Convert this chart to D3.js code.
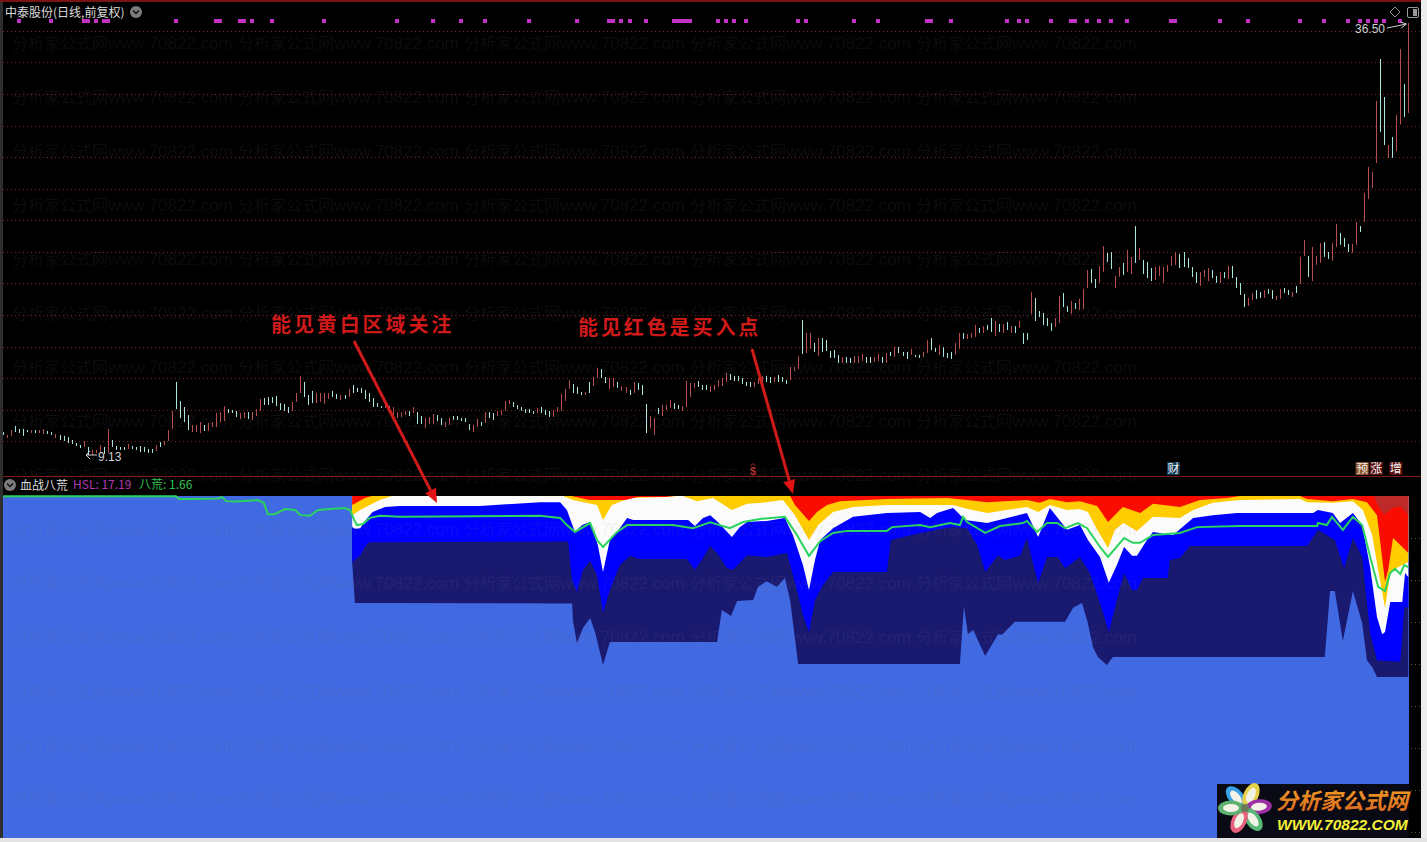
<!DOCTYPE html>
<html><head><meta charset="utf-8">
<style>html,body{margin:0;padding:0;background:#000;overflow:hidden}svg{display:block}</style>
<script src="https://cdn.jsdelivr.net/npm/d3@7"></script></head><body>
<script>
// Daily price bars (yuan)
const highs=[
10.58,10.40,10.71,10.97,10.78,10.78,10.71,10.71,10.71,10.71,
10.78,10.65,10.58,10.46,10.40,10.34,10.27,10.08,9.89,9.76,
10.02,9.64,9.45,9.45,9.76,9.64,10.78,10.08,9.70,9.64,
9.64,9.83,9.70,9.64,9.70,9.64,9.51,9.51,9.76,9.95,
10.02,10.71,11.92,13.76,12.55,12.17,11.66,11.03,11.03,11.22,
11.03,11.16,11.22,11.79,11.85,12.23,12.04,11.98,11.92,11.79,
11.85,11.85,11.85,12.04,12.68,12.74,12.80,12.80,12.87,12.42,
12.36,12.17,12.49,13.06,14.14,13.76,12.93,13.19,13.06,13.06,
13.06,13.06,13.19,13.00,12.93,12.93,13.31,13.57,13.38,13.38,
13.25,13.06,12.74,12.42,12.23,12.30,12.23,12.17,11.85,11.85,
11.92,11.92,12.17,11.85,11.60,11.47,11.54,11.73,11.66,11.47,
11.22,11.47,11.60,11.60,11.47,11.47,11.09,11.03,11.41,11.22,
11.85,11.85,11.79,11.92,11.98,12.55,12.61,12.49,12.30,12.17,
12.04,12.04,11.92,12.11,12.17,11.98,11.92,11.98,12.17,13.00,
13.31,13.88,13.63,13.44,13.12,13.12,13.76,14.07,14.64,14.58,
14.07,14.01,14.01,13.76,13.50,13.44,13.25,13.76,13.69,13.57,
12.36,11.60,11.47,12.11,12.30,12.30,12.61,12.42,12.30,12.23,
13.82,13.69,13.69,13.82,13.57,13.57,13.50,13.57,13.88,14.01,
14.33,14.26,14.14,14.14,14.01,13.76,13.76,13.76,14.01,14.14,
14.14,14.07,14.07,14.20,14.07,13.88,14.71,14.71,15.40,17.68,
16.86,16.86,16.23,16.54,16.54,16.42,15.72,15.78,15.47,15.34,
15.34,15.28,15.40,15.40,15.53,15.34,15.34,15.34,15.53,15.34,
15.59,15.66,15.97,15.97,15.66,15.66,15.85,15.47,15.47,15.66,
16.42,16.54,15.91,16.10,15.97,15.59,15.66,16.23,16.86,16.86,
16.80,16.86,17.37,17.18,17.30,17.37,17.81,17.62,17.43,17.43,
17.56,17.30,17.30,17.62,16.86,16.86,19.46,19.08,18.25,18.13,
17.81,17.49,17.81,19.21,19.39,18.57,18.89,18.76,19.02,19.65,
20.85,20.92,20.28,21.11,22.37,21.93,21.99,20.47,21.04,21.30,
22.12,21.68,23.64,22.25,21.49,21.36,20.98,21.04,21.11,21.04,
21.17,21.74,21.99,21.87,21.99,21.61,21.04,20.72,20.72,20.85,
20.98,20.85,20.47,20.72,20.72,21.11,21.11,20.41,20.03,19.33,
19.08,19.39,19.58,19.46,19.58,19.65,19.58,19.21,19.65,19.71,
19.58,19.46,19.84,21.68,22.75,21.74,22.31,21.74,22.56,22.62,
21.99,22.56,23.77,23.20,22.88,22.50,22.50,23.89,23.64,25.73,
27.38,27.06,31.56,34.22,31.81,28.77,29.28,30.67,34.85,32.64,36.50];
const lows=[
10.40,10.21,10.34,10.58,10.52,10.34,10.58,10.52,10.52,10.52,
10.46,10.46,10.40,10.21,10.08,10.02,9.89,9.83,9.70,9.57,
9.64,9.13,9.13,9.26,9.26,9.19,9.26,9.64,9.45,9.45,
9.45,9.51,9.51,9.45,9.32,9.32,9.26,9.26,9.38,9.64,
9.76,10.02,10.78,12.04,11.47,11.22,10.71,10.58,10.58,10.52,
10.65,10.65,10.90,10.90,11.22,11.28,11.79,11.79,11.54,11.41,
11.47,11.41,11.35,11.60,11.92,12.30,12.30,12.42,12.23,11.98,
11.92,11.79,11.92,12.49,13.06,12.80,12.30,12.42,12.42,12.49,
12.36,12.68,12.80,12.68,12.61,12.68,12.80,13.06,13.12,13.06,
12.68,12.49,12.17,12.17,12.11,12.11,11.79,11.66,11.47,11.54,
11.66,11.60,11.79,11.09,11.09,10.84,11.09,11.09,11.28,11.03,
10.90,11.03,11.35,11.35,11.28,11.22,10.71,10.58,10.90,10.97,
11.16,11.47,11.35,11.60,11.66,11.92,12.36,12.17,12.04,11.92,
11.79,11.79,11.73,11.79,11.79,11.66,11.54,11.54,11.85,11.92,
12.55,13.31,13.06,13.00,12.93,12.93,13.06,13.50,14.01,14.01,
13.69,13.31,13.44,13.38,13.19,13.06,12.93,13.06,13.25,12.93,
10.52,10.84,10.40,11.73,11.60,11.98,12.11,12.04,12.04,11.92,
12.17,12.80,13.38,13.44,13.25,13.25,13.12,13.25,13.44,13.50,
13.76,13.88,13.82,13.82,13.63,13.50,13.44,13.44,13.63,13.69,
13.76,13.69,13.76,13.76,13.76,13.63,13.88,14.45,14.58,15.53,
15.59,15.85,15.66,15.40,15.66,15.72,15.28,15.28,14.96,14.96,
14.96,14.96,14.96,14.96,15.09,14.96,14.96,15.02,15.09,14.96,
14.96,15.40,15.34,15.59,15.40,15.21,15.47,15.34,15.28,15.34,
15.59,15.78,15.66,15.47,15.34,15.28,15.21,15.47,15.85,16.48,
16.48,16.54,16.61,16.86,16.86,17.05,16.92,16.67,16.92,16.86,
17.05,16.86,16.86,17.18,16.16,16.42,18.06,17.62,17.87,17.37,
17.30,16.99,17.24,17.49,18.50,18.19,18.06,18.38,18.32,18.38,
19.71,20.03,19.71,20.03,20.72,21.36,20.91,19.71,20.41,20.53,
20.72,20.60,21.30,21.49,20.60,20.34,20.15,20.22,20.47,20.03,
20.72,21.11,21.17,20.98,21.04,20.98,20.41,20.03,19.84,20.41,
20.15,20.34,20.03,20.03,20.34,20.28,20.34,19.71,19.27,18.50,
18.57,18.95,19.02,19.08,19.08,19.33,19.02,18.95,19.02,19.39,
19.27,19.14,19.39,19.96,21.74,20.41,20.15,21.17,21.30,21.68,
21.55,21.43,22.31,22.44,22.31,21.99,21.93,22.44,23.26,23.89,
25.35,26.05,27.63,29.60,28.77,27.95,27.95,28.39,30.07,30.55,30.80];
// One letter per day: u = up day, d = down day
const directions=[
"duuddddudu","uddudddddd","uduuududdd","duddddddud","uuudddduuu",
"duuuuudddu","uduuuddddd","dduuuddduu","uuddududdd","ddddduduuu",
"ududduuudd","uuddddduud","udduuuuddd","ddduddduuu","uuddduduud",
"duuduududd","duuduuuddu","uuuddduuuu","udddddduuu","dduddduuud",
"uududddddu","dduuudduud","ududdduddu","udduddduud","uuududdudu",
"dududduddd","dduudduduu","udduudduud","uududdduuu","uuuddddduu",
"uddududddd","uuddudduud","duduuduuud","duuddduudu","uuuddududd".slice(0,8)+"udu"
].join("");
// Flag row on top of the price panel: day numbers that carry a purple mark
const flaggedDays=[4,12,20,21,23,25,26,43,53,54,59,60,62,67,80,98,107,114,120,131,143,151,152,154,156,160,167,168,169,170,171,178,180,182,185,198,200,212,218,230,231,236,250,253,255,261,266,267,270,273,276,280,291,292,303,310,323,329,335,338,340,342,344,348];
// Even-yuan price grid
const priceGrid=[10,12,14,16,18,20,22,24,26,28,30,32,34,36];
const indicatorGrid=[12.3,24.6,36.8,49.1,61.4,73.7,86,98.2];
// 血战八荒 bands: [day, depth below the top of the panel in percent of its height]
const redBand=[[86.9,2.6],[90.1,.6],[91.8,0],[141.5,0],[146,1.2],[155,1.2],[158,.3],[165,.3],[167,0],[196,0],[197.2,2.6],[200.7,7.3],[202.7,4.7],[205.2,2.6],[208.4,1.5],[220.1,.9],[235.1,.6],[240.1,1.2],[245.1,1.8],[255,1.2],[258.2,2],[260.7,.9],[265,1.8],[268.2,1.5],[272.5,2.9],[275.2,7.6],[278.9,3.2],[283.2,5],[286.4,2.3],[293.1,3.2],[298.1,1.2],[304.9,.6],[308.1,0],[323,0],[324.8,.9],[331.2,1.5],[336.2,.9],[339.7,1.8],[342.2,5.6],[344.2,25.1],[345,21.6],[346.2,12.3],[348,14.3],[350,16.7]];
const darkRedBand=[[341.5,0],[342.5,3],[344,5.5],[346,3.5],[348,3],[350,5.5]];
const yellowBand=[[86.9,5.6],[88.9,4.1],[91.3,2.6],[93.8,1.2],[96.8,0],[139.4,0],[141.9,1.2],[147.9,2.6],[149.4,7],[151.6,2.6],[156.1,.6],[165.3,.3],[168,0],[169.3,0],[172.8,1.5],[176.8,.6],[181.5,4.1],[185.3,2.3],[189.2,2],[194.2,1.2],[197.2,5.6],[200.7,12.9],[203,8.5],[206.7,4.7],[211.7,3.2],[220.1,2.6],[236.6,2.6],[240.3,3.8],[245.1,5],[255,3.2],[257.8,4.7],[260.7,2.6],[265,4.1],[268.2,3.8],[270.2,4.7],[272.5,9.9],[275.2,15.2],[276.9,9.9],[279,7.9],[282.4,10.2],[286.4,6.1],[293.1,6.4],[296.4,4.1],[301.3,2],[308.1,1.2],[323,.9],[324.8,1.8],[331.2,2],[336.2,1.5],[338.7,4.1],[341,11.4],[342.5,21.6],[344.2,32.7],[345.5,22.5],[346.2,21.6],[350,19.3]];
const whiteBand=[[86.9,9.1],[87.6,9.6],[88.9,9.4],[90.3,7],[92,4.7],[95.1,3.2],[98.8,2.9],[118.7,2.9],[133.7,1.8],[138.7,1.8],[140.4,4.1],[142.4,10.5],[144.2,8.5],[146.2,7.6],[148.1,14.3],[149.4,22.2],[151.1,12.9],[152.9,10.5],[155.4,6.4],[156.9,7],[170.6,7],[172.3,8.8],[174.3,6.4],[176.1,5.6],[178,7.6],[181.5,12],[183.5,9.1],[185.3,7.6],[190.2,7.3],[194.7,6.4],[196.7,11.4],[199.2,20.2],[200.7,27.5],[202.2,18.7],[203.5,12.9],[206.7,9.4],[211.7,6.1],[220.1,5],[228.4,4.7],[230.9,6.4],[232.6,5],[236.6,3.5],[239.6,7],[245.1,7.9],[255,5],[257.8,12],[260.7,3.5],[265,9.9],[268.2,8.5],[270.2,12.9],[273.2,17.8],[275.4,25.4],[277.4,20.2],[279.2,14.9],[281.2,17.5],[282.4,17.5],[284.9,12.9],[286.4,10.5],[291.4,11.4],[296.4,6.4],[301.3,5.6],[307.3,5],[326.3,5],[327.5,4.1],[331.2,5],[333,7.9],[336.2,5],[338.5,8.5],[340.5,20.8],[342.2,35.4],[343.5,40.4],[344.2,39.8],[345.5,31],[348.5,31],[349.2,22.5],[350,23.7]];
const blueBand=[[86.9,19.3],[88.9,17.3],[90.1,14.9],[91.1,13.5],[140.7,13.3],[141.7,24.6],[142.9,28.1],[144.4,21.6],[146.2,19],[147.9,23.1],[149.4,34.2],[151.1,27.5],[153.6,20.2],[156.1,17.5],[158.6,18.4],[170.3,18.4],[172.3,21.6],[174.3,18.1],[176.1,14.6],[177.8,16.7],[180.3,21.1],[181.8,21.6],[185.3,17.3],[190.2,17.8],[195.2,16.7],[197.7,27.5],[199.2,34.8],[200.7,39.8],[202.2,30.4],[204.2,26],[206.7,22.2],[220.1,22.2],[221.1,12.9],[228.4,10.8],[232.6,9.9],[236.3,9.1],[240.1,9.4],[242.6,14.3],[244.6,22.2],[246.5,19.3],[247.8,17.3],[249.5,18.7],[253.3,17.5],[255,12.3],[256.3,18.7],[257.8,25.4],[260,17.8],[262.7,17.8],[264.5,21.1],[268.2,17.8],[270.7,22.5],[273.2,31.3],[275.4,39.8],[277.4,30.4],[279.2,22.5],[281.2,27.5],[282.4,27.5],[283.9,24],[290.1,24],[290.6,18.7],[293.1,18.1],[295.6,14.6],[324.8,14.6],[327.5,9.9],[331.7,12.9],[334,21.1],[336.2,12.3],[338.5,17.8],[340.5,40.1],[342.2,48],[348,48.5],[349,32.5],[350,32.5]];
const navyBand=[[86.9,19.3],[87.6,31.3],[141.7,31.4],[141.9,36.3],[142.9,43],[144.4,38.6],[146.2,35.7],[147.4,39.8],[149.4,49.4],[151.1,42.7],[177.8,42.7],[179,33.3],[181.3,35.1],[182.8,30.7],[186.8,30.4],[188,26.6],[190.2,24.9],[192.7,26.6],[194.7,24],[196,30.4],[198,49.1],[238.3,49.1],[239.3,32.2],[240.3,40.4],[241.6,39.2],[244.6,46.8],[247.8,40.4],[248.8,40.6],[252,36.8],[264.5,36.8],[266.5,32.7],[268.7,31.3],[270,36.3],[271.5,44.4],[272.7,47.1],[274.9,49.4],[276.4,47.1],[329.2,47.1],[330.5,27.8],[331.7,27.8],[333.7,42.4],[336.2,27.8],[338.5,37.1],[339.7,48],[341,50],[342.2,52.9],[350,52.9]];
const greenLine=[[0,.1],[43,.1],[43.8,.9],[47,.9],[53.5,.7],[54.5,.3],[55.5,1.5],[57.7,1.6],[63.4,1.2],[64.9,2],[65.9,5.3],[67.6,5.3],[70.2,3.8],[72.7,4.1],[74,5.6],[76.4,5.8],[78.4,4.1],[81.4,3.8],[85.1,3.5],[86.4,4.1],[87.4,7],[88.1,8.5],[89.6,8.2],[91.3,6.4],[93.8,5.8],[98.8,6.1],[133.7,5.8],[138.7,6.4],[140.4,8.5],[142.4,10.5],[146.2,7.9],[147.9,12.9],[149.4,14.9],[152.9,10.5],[155.4,8.5],[166.8,8.5],[171.8,9.4],[176.1,7.7],[181,9.4],[184.3,7.6],[188.5,6.7],[194.7,6.1],[197.7,11.4],[200.7,17.5],[203.5,13.2],[206.7,10.8],[210.2,10.2],[220.1,10.2],[221.4,9.1],[228.4,8.5],[230.9,9.1],[235.8,7.9],[238.3,8.5],[239.1,6.1],[240.1,7.6],[244.6,10.8],[248.3,8.8],[254,7.9],[255,7.3],[257.5,10.5],[260,7.9],[262.5,7.9],[264.5,9.4],[267.7,7.9],[270,9.4],[273.2,14.9],[275.2,17.8],[279.2,12.3],[281.4,13.7],[283.2,13.7],[286.4,11.4],[293.1,10.8],[297.4,9.1],[308.1,8.8],[327.3,8.8],[327.5,7.9],[329.7,8.5],[331,6.1],[333.7,9.9],[336.2,6.1],[338.5,8.5],[340.5,17.8],[342.5,26.6],[344.2,27.8],[345.5,22.5],[346.7,21.3],[348,22.8],[349,20.2],[350,20.8]];
const stockTitle="中泰股份(日线,前复权)";
const indicatorName="血战八荒";
const hslLabel="HSL: 17.19";
const bahuangLabel="八荒: 1.66";
const highLabel="36.50",lowLabel="9.13";
const noteYellow="能见黄白区域关注",noteRed="能见红色是买入点";
const wmCn="分析家公式网",wmEn="www.70822.com";
const eventTags=[["财",291.5,"#143c58"],["预",338.5,"#8a5228"],["涨",342,"#5a1010"],["增",346.9,"#5a1010"]];

const CJK='"Noto Sans CJK SC","Noto Sans",sans-serif';
const LAT='"Liberation Sans","Noto Sans CJK SC",sans-serif';
const svg=d3.select("body").append("svg").attr("width",1427).attr("height",842).style("background","#000");

const x=d3.scaleLinear().domain([0,highs.length-1]).range([3.3,1408.3]);
const yPrice=d3.scaleLinear().domain([9.13,36.5]).range([455,23]);
const yInd=d3.scaleLinear().domain([0,100]).range([496,838]);

// grids
svg.append("g").selectAll("line").data(priceGrid).join("line")
  .attr("x1",3).attr("x2",1421).attr("y1",d=>Math.round(yPrice(d))+.5).attr("y2",d=>Math.round(yPrice(d))+.5)
  .attr("stroke","#7a2222").attr("stroke-dasharray","1,3");
svg.append("g").selectAll("line").data(indicatorGrid).join("line")
  .attr("x1",3).attr("x2",1421).attr("y1",d=>Math.round(yInd(d))+.5).attr("y2",d=>Math.round(yInd(d))+.5)
  .attr("stroke","#6e5c28").attr("stroke-dasharray","1,3");

// indicator panel
svg.append("rect").attr("x",3).attr("y",yInd(0)).attr("width",1406).attr("height",yInd(100)-yInd(0)).attr("fill","#4169e1");
const band=d3.area().x(d=>x(d[0])).y0(yInd(0)).y1(d=>yInd(d[1]));
[[navyBand,"#191970"],[blueBand,"#0000ff"],[whiteBand,"#fbfbfb"],[yellowBand,"#ffcc00"],[redBand,"#f90d00"],[darkRedBand,"#bd2a2a"]].forEach(([k,c])=>{
  svg.append("path").attr("d",band(k)).attr("fill",c);
});
svg.append("path").attr("d",d3.line().x(d=>x(d[0])).y(d=>yInd(d[1]))(greenLine))
  .attr("fill","none").attr("stroke","#2ad35e").attr("stroke-width",2);

// price bars
svg.append("g").selectAll("line").data(highs).join("line")
  .attr("x1",(d,i)=>Math.round(x(i))+.5).attr("x2",(d,i)=>Math.round(x(i))+.5)
  .attr("y1",d=>yPrice(d)).attr("y2",(d,i)=>yPrice(lows[i]))
  .attr("stroke",(d,i)=>directions[i]==="u"?"#b84e4e":"#a9e6df").attr("stroke-width",1);

// flag row
svg.append("g").selectAll("rect").data(flaggedDays).join("rect")
  .attr("x",d=>Math.round(x(d))-2).attr("y",19).attr("width",4).attr("height",4).attr("fill","#c232c2");

// watermark
const wmRows=d3.range(15),wmCols=d3.range(5);
const wm=svg.append("g").attr("fill","#8a8a8a").attr("fill-opacity",.105);
wmRows.forEach(r=>wmCols.forEach(c=>{
  const t=wm.append("text").attr("x",12+226*c).attr("y",49+54*r);
  t.append("tspan").attr("font-family",CJK).attr("font-size",16).text(wmCn);
  t.append("tspan").attr("font-family",LAT).attr("font-size",17).text(wmEn);
}));

// frame
svg.append("rect").attr("x",0).attr("y",0).attr("width",3).attr("height",842).attr("fill","#2e2e2e");
svg.append("rect").attr("x",0).attr("y",0).attr("width",1427).attr("height",2).attr("fill","#7a1414");
svg.append("line").attr("x1",3).attr("x2",1421).attr("y1",476.5).attr("y2",476.5).attr("stroke","#7c1c1c");
svg.append("rect").attr("x",1421).attr("y",0).attr("width",6).attr("height",842).attr("fill","#ececec");
svg.append("rect").attr("x",0).attr("y",838).attr("width",1427).attr("height",4).attr("fill","#e4e4e4");

// titles
function chevron(cx,cy){
  svg.append("circle").attr("cx",cx).attr("cy",cy).attr("r",6).attr("fill","#7c7c7c");
  svg.append("path").attr("d",`M${cx-3},${cy-1.5}L${cx},${cy+1.5}L${cx+3},${cy-1.5}`).attr("fill","none").attr("stroke","#111").attr("stroke-width",1.5);
}
svg.append("text").attr("x",5).attr("y",17).attr("font-family",CJK).attr("font-size",12).attr("fill","#dcdcdc").text(stockTitle);
chevron(136,12);
chevron(10,485);
svg.append("text").attr("x",20).attr("y",490).attr("font-family",CJK).attr("font-size",12).attr("fill","#dcdcdc").text(indicatorName);
svg.append("text").attr("x",73).attr("y",489).attr("font-family",CJK).attr("font-size",12).attr("fill","#b23ab2").text(hslLabel);
svg.append("text").attr("x",139).attr("y",489).attr("font-family",CJK).attr("font-size",12).attr("fill","#30c050").text(bahuangLabel);

// window icons
svg.append("path").attr("d","M1395,7L1400,12L1395,17L1390,12Z").attr("fill","none").attr("stroke","#8a8a8a");
svg.append("rect").attr("x",1407.5).attr("y",7.5).attr("width",11).attr("height",10).attr("rx",1.5).attr("fill","#000").attr("stroke","#9a9a9a");
svg.append("rect").attr("x",1413).attr("y",9).attr("width",4).attr("height",7).attr("fill","#9a9a9a");

// extreme labels
svg.append("text").attr("x",1355).attr("y",33).attr("font-family",LAT).attr("font-size",12).attr("fill","#cfcfcf").text(highLabel);
svg.append("path").attr("d",`M1387,28L${x(350)-2},${yPrice(36.5)+1}M${x(350)-8},${yPrice(36.5)-1}L${x(350)-2},${yPrice(36.5)+1}L${x(350)-7},${yPrice(36.5)+5}`).attr("fill","none").attr("stroke","#cfcfcf");
svg.append("path").attr("d",`M97,455H86M90,451L86,455L90,459`).attr("fill","none").attr("stroke","#cfcfcf");
svg.append("text").attr("x",98).attr("y",461).attr("font-family",LAT).attr("font-size",12).attr("fill","#cfcfcf").text(lowLabel);

// event tags
eventTags.forEach(([t,d,c])=>{
  const cx=x(d);
  svg.append("rect").attr("x",cx-6.5).attr("y",462).attr("width",13).attr("height",13).attr("fill",c);
  svg.append("text").attr("x",cx).attr("y",473).attr("text-anchor","middle").attr("font-family",CJK).attr("font-size",12).attr("fill","#f0f0f0").text(t);
});
svg.append("text").attr("x",753).attr("y",475).attr("text-anchor","middle").attr("font-family",LAT).attr("font-size",11).attr("font-weight","bold").attr("fill","#b03030").text("$");
svg.append("path").attr("d","M750.5,466L753,463.5L755.5,466").attr("fill","none").attr("stroke","#b03030");

// notes and arrows
function note(t,xp,yp){
  svg.append("text").attr("x",xp).attr("y",yp).attr("font-family",CJK).attr("font-weight","bold").attr("font-size",20).attr("letter-spacing",2.9).attr("fill","#cf1a1a").text(t);
}
note(noteYellow,271,332);
note(noteRed,578,335);
function arrow(x1,y1,x2,y2){
  const a=Math.atan2(y2-y1,x2-x1),bx=x2-14*Math.cos(a),by=y2-14*Math.sin(a),nx=-Math.sin(a),ny=Math.cos(a);
  svg.append("line").attr("x1",x1).attr("y1",y1).attr("x2",bx).attr("y2",by).attr("stroke","#cf1a1a").attr("stroke-width",3);
  svg.append("path").attr("d",`M${x2},${y2}L${bx+nx*6},${by+ny*6}L${bx-nx*6},${by-ny*6}Z`).attr("fill","#e01414");
}
arrow(354,341,437,503);
arrow(752,349,793,494);

// logo
const logo=svg.append("g");
logo.append("rect").attr("x",1217).attr("y",784).attr("width",192).attr("height",54).attr("fill","#0a0a14");
[[ -130,"#3aa2e6"],[-65,"#e6d24a"],[-5,"#9c2fa6"],[55,"#58b878"],[115,"#e8607e"],[180,"#5fb070"]].forEach(([a,c])=>{
  const ex=1245+14*Math.cos(a*Math.PI/180),ey=808+14*Math.sin(a*Math.PI/180);
  logo.append("ellipse").attr("cx",ex).attr("cy",ey).attr("rx",13).attr("ry",7.5).attr("transform",`rotate(${a} ${ex} ${ey})`).attr("fill",c);
  logo.append("ellipse").attr("cx",ex).attr("cy",ey).attr("rx",8).attr("ry",4).attr("transform",`rotate(${a} ${ex} ${ey})`).attr("fill","#f2f2e6");
});
logo.append("circle").attr("cx",1245).attr("cy",808).attr("r",4).attr("fill","#6b7a5a");
const gold=svg.append("defs").append("linearGradient").attr("id","gold").attr("x1",0).attr("y1",0).attr("x2",0).attr("y2",1);
gold.append("stop").attr("offset",0).attr("stop-color","#f5a623");
gold.append("stop").attr("offset",1).attr("stop-color","#d9641e");
logo.append("text").attr("x",1276).attr("y",809).attr("font-family",CJK).attr("font-weight","bold").attr("font-style","italic").attr("font-size",22).attr("fill","url(#gold)").text(wmCn);
logo.append("text").attr("x",1277).attr("y",830).attr("font-family",LAT).attr("font-weight","bold").attr("font-style","italic").attr("font-size",15.5).attr("fill","#f4f13a").text("WWW.70822.COM");
</script>
</body></html>
